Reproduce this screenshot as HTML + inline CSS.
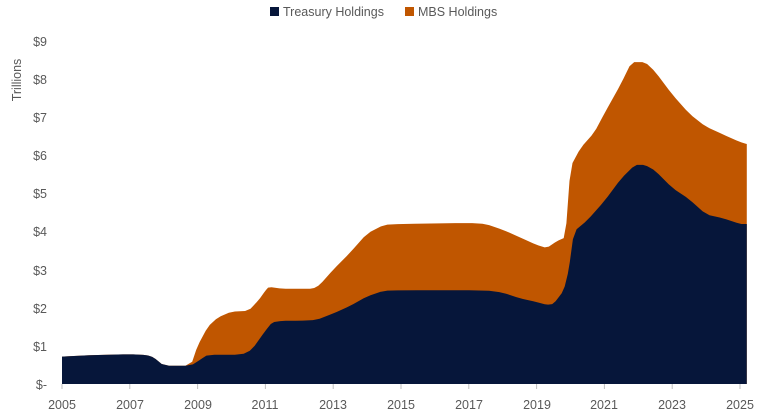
<!DOCTYPE html>
<html><head><meta charset="utf-8"><style>
body{margin:0;background:#fff;width:765px;height:415px;overflow:hidden;font-family:"Liberation Sans",sans-serif;}
svg text{font-family:"Liberation Sans",sans-serif;fill:#595959;font-size:12.5px;}
</style></head><body>
<svg id="s" width="765" height="415" xmlns="http://www.w3.org/2000/svg">
<rect x="270" y="7" width="9" height="9" fill="#06163a"/>
<text x="283" y="16" font-size="12">Treasury Holdings</text>
<rect x="405" y="7" width="9" height="9" fill="#c05600"/>
<text x="418" y="16" font-size="12">MBS Holdings</text>
<text transform="translate(21,80) rotate(-90)" text-anchor="middle" font-size="13">Trillions</text>
<g text-anchor="end">
<text x="47" y="46">$9</text><text x="47" y="84">$8</text><text x="47" y="122">$7</text>
<text x="47" y="160">$6</text><text x="47" y="198">$5</text><text x="47" y="236">$4</text>
<text x="47" y="275">$3</text><text x="47" y="313">$2</text><text x="47" y="351">$1</text>
<text x="47" y="389">$-</text></g>
<path id="tot" fill="#c05600"/>
<path id="tre" fill="#06163a"/>
<g id="ticks" stroke="#bfbfbf" stroke-width="1"></g>
<g text-anchor="middle">
<text x="62" y="409">2005</text><text x="130" y="409">2007</text><text x="198" y="409">2009</text>
<text x="265" y="409">2011</text><text x="333" y="409">2013</text><text x="401" y="409">2015</text>
<text x="469" y="409">2017</text><text x="537" y="409">2019</text><text x="604" y="409">2021</text>
<text x="672" y="409">2023</text><text x="740" y="409">2025</text></g>
</svg>
<script>
var X=function(y){return 62+(y-2005)*33.9},Y=function(v){return 384-38.1*v};
var base=[[2005,0.72],[2006,0.76],[2007,0.78],[2007.5,0.76],[2007.7,0.7],[2008,0.48],[2008.8,0.48]];
var tre=base.concat([[2009.1,0.65],[2009.3,0.77],[2010.3,0.77],[2010.6,0.9],[2011,1.4],[2011.2,1.62],[2011.5,1.66],[2012,1.66],[2012.5,1.68],[2013,1.85],[2013.5,2.05],[2014,2.3],[2014.5,2.45],[2015,2.46],[2017.5,2.46],[2018,2.4],[2018.5,2.25],[2019,2.15],[2019.3,2.08],[2019.5,2.1],[2019.8,2.45],[2019.95,3.0],[2020.1,4.0],[2020.5,4.3],[2021,4.8],[2021.5,5.4],[2021.9,5.75],[2022.2,5.75],[2022.5,5.6],[2023,5.15],[2023.5,4.85],[2024,4.45],[2024.5,4.35],[2025,4.2],[2025.2,4.2]]);
var tot=base.concat([[2009,1.0],[2009.3,1.5],[2009.6,1.75],[2010,1.9],[2010.5,1.92],[2010.8,2.2],[2011,2.45],[2011.1,2.55],[2011.5,2.5],[2012,2.5],[2012.4,2.5],[2012.6,2.6],[2013,3.0],[2013.5,3.45],[2014,3.95],[2014.5,4.18],[2015,4.2],[2017,4.23],[2017.5,4.2],[2018,4.05],[2018.5,3.85],[2019,3.65],[2019.3,3.57],[2019.6,3.75],[2019.85,3.85],[2020,5.7],[2020.3,6.2],[2020.7,6.6],[2021,7.1],[2021.5,7.9],[2021.8,8.45],[2022.2,8.45],[2022.5,8.2],[2023,7.6],[2023.5,7.1],[2024,6.75],[2024.5,6.55],[2025,6.35],[2025.2,6.3]]);
function smooth(a){var r=[a[0]];for(var i=0;i<a.length-1;i++){var p=a[i],q=a[i+1];r.push([0.8*p[0]+0.2*q[0],0.8*p[1]+0.2*q[1]]);r.push([0.2*p[0]+0.8*q[0],0.2*p[1]+0.8*q[1]]);}r.push(a[a.length-1]);return r}
function p(a){a=smooth(a);var d="M"+X(2005)+","+Y(0);a.forEach(function(q){d+=" L"+X(q[0]).toFixed(1)+","+Y(q[1]).toFixed(1)});return d+" L"+X(2025.2)+","+Y(0)+" Z"}
document.getElementById("tot").setAttribute("d",p(tot));
document.getElementById("tre").setAttribute("d",p(tre));
var g=document.getElementById("ticks"),h="";
for(var y=2005;y<=2025;y+=2){var x=X(y);h+='<line x1="'+x+'" y1="384" x2="'+x+'" y2="389"/>'}
g.innerHTML=h;
</script>
</body></html>
